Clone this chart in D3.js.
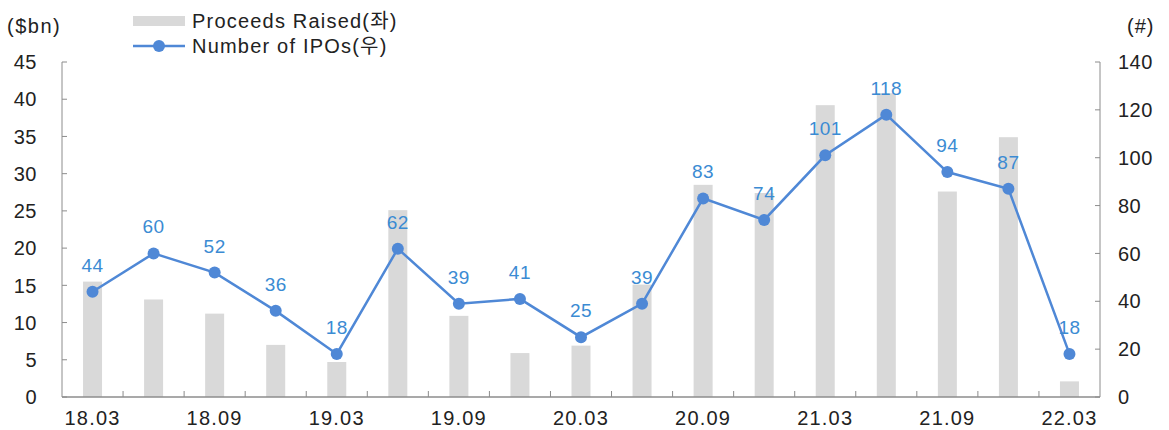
<!DOCTYPE html>
<html lang="ko">
<head>
<meta charset="UTF-8">
<title>IPO Proceeds and Number of IPOs</title>
<script src="https://d3js.org/d3.v7.min.js"></script>
<style>
    body { margin: 0; background: #fff; }
    svg { font-family: "Liberation Sans", "Noto Sans CJK KR", sans-serif; }
</style>
</head>
<body>
<div id="chart"></div>
<script>
// quarterly data, 18.03 - 22.03
var quarters = ["18.03","18.06","18.09","18.12","19.03","19.06","19.09","19.12",
                "20.03","20.06","20.09","20.12","21.03","21.06","21.09","21.12","22.03"];
var proceeds = [15.5, 13.1, 11.2, 7.0, 4.7, 25.1, 10.9, 5.9,
                6.9, 15.1, 28.5, 27.4, 39.2, 40.8, 27.6, 34.9, 2.1];
var ipoCount = [44, 60, 52, 36, 18, 62, 39, 41, 25, 39, 83, 74, 101, 118, 94, 87, 18];
var xTickLabels = ["18.03","18.09","19.03","19.09","20.03","20.09","21.03","21.09","22.03"];
var leftTicks = [0,5,10,15,20,25,30,35,40,45];
var rightTicks = [0,20,40,60,80,100,120,140];

var W = 1169, H = 430;
var plotL = 62, plotR = 1100, plotT = 62, plotB = 397;
var fs = 20;

var svg = d3.select("#chart").append("svg")
    .attr("width", W).attr("height", H);

var x = d3.scaleBand().domain(quarters).range([plotL, plotR]).padding(0);
var yL = d3.scaleLinear().domain([0, 45]).range([plotB, plotT]);
var yR = d3.scaleLinear().domain([0, 140]).range([plotB, plotT]);
var cx = function(q) { return x(q) + x.bandwidth() / 2; };

var axisColor = "#8c8c8c", textColor = "#222", lineColor = "#4f88d6", labelColor = "#3b8bd3";

// bars
svg.selectAll("rect.bar").data(proceeds).enter().append("rect")
    .attr("class", "bar")
    .attr("x", function(d, i) { return cx(quarters[i]) - 9.5; })
    .attr("width", 19)
    .attr("y", function(d) { return yL(d); })
    .attr("height", function(d) { return plotB - yL(d); })
    .attr("fill", "#d9d9d9");

// axes lines
svg.append("line").attr("x1", plotL).attr("x2", plotL).attr("y1", plotT).attr("y2", plotB)
    .attr("stroke", axisColor).attr("stroke-width", 1);
svg.append("line").attr("x1", plotR).attr("x2", plotR).attr("y1", plotT).attr("y2", plotB)
    .attr("stroke", axisColor).attr("stroke-width", 1);
svg.append("line").attr("x1", plotL).attr("x2", plotR).attr("y1", plotB).attr("y2", plotB)
    .attr("stroke", axisColor).attr("stroke-width", 1.5);

// left ticks
svg.selectAll("line.lt").data(leftTicks).enter().append("line")
    .attr("x1", plotL).attr("x2", plotL + 5)
    .attr("y1", function(d) { return yL(d); }).attr("y2", function(d) { return yL(d); })
    .attr("stroke", axisColor);
svg.selectAll("text.lt").data(leftTicks).enter().append("text")
    .attr("x", 37).attr("y", function(d) { return yL(d); })
    .attr("dy", "0.36em").attr("text-anchor", "end")
    .attr("font-size", fs).attr("letter-spacing", 0.5).attr("fill", textColor)
    .text(function(d) { return d; });

// right ticks
svg.selectAll("line.rt").data(rightTicks).enter().append("line")
    .attr("x1", plotR - 5).attr("x2", plotR)
    .attr("y1", function(d) { return yR(d); }).attr("y2", function(d) { return yR(d); })
    .attr("stroke", axisColor);
svg.selectAll("text.rt").data(rightTicks).enter().append("text")
    .attr("x", 1118).attr("y", function(d) { return yR(d); })
    .attr("dy", "0.36em").attr("text-anchor", "start")
    .attr("font-size", fs).attr("letter-spacing", 0.5).attr("fill", textColor)
    .text(function(d) { return d; });

// x ticks at band boundaries
svg.selectAll("line.xt").data(quarters.slice(1)).enter().append("line")
    .attr("x1", function(d) { return x(d); }).attr("x2", function(d) { return x(d); })
    .attr("y1", plotB - 6).attr("y2", plotB)
    .attr("stroke", axisColor);
svg.selectAll("text.xt").data(xTickLabels).enter().append("text")
    .attr("x", function(d) { return cx(d); }).attr("y", 425)
    .attr("text-anchor", "middle")
    .attr("font-size", fs).attr("letter-spacing", 1.2).attr("fill", textColor)
    .text(function(d) { return d; });

// line
var line = d3.line()
    .x(function(d, i) { return cx(quarters[i]); })
    .y(function(d) { return yR(d); });
svg.append("path").datum(ipoCount)
    .attr("d", line).attr("fill", "none")
    .attr("stroke", lineColor).attr("stroke-width", 2.5);
svg.selectAll("circle.pt").data(ipoCount).enter().append("circle")
    .attr("cx", function(d, i) { return cx(quarters[i]); })
    .attr("cy", function(d) { return yR(d); })
    .attr("r", 6).attr("fill", lineColor);
svg.selectAll("text.pt").data(ipoCount).enter().append("text")
    .attr("x", function(d, i) { return cx(quarters[i]); })
    .attr("y", function(d) { return yR(d) - 20; })
    .attr("text-anchor", "middle")
    .attr("font-size", fs - 1).attr("letter-spacing", 0.5).attr("fill", labelColor)
    .text(function(d) { return d; });

// axis titles
svg.append("text").attr("x", 7).attr("y", 33).attr("font-size", fs)
    .attr("letter-spacing", 1.5).attr("fill", textColor).text("($bn)");
svg.append("text").attr("x", 1127).attr("y", 33).attr("font-size", fs)
    .attr("letter-spacing", 1).attr("fill", textColor).text("(#)");

// legend
var lg = svg.append("g");
lg.append("rect").attr("x", 133).attr("y", 16).attr("width", 52).attr("height", 10).attr("fill", "#d9d9d9");
lg.append("text").attr("x", 192).attr("y", 28).attr("font-size", fs)
    .attr("letter-spacing", 1.2).attr("fill", textColor).text("Proceeds Raised(좌)");
lg.append("line").attr("x1", 133).attr("x2", 185).attr("y1", 46).attr("y2", 46)
    .attr("stroke", lineColor).attr("stroke-width", 2.5);
lg.append("circle").attr("cx", 159).attr("cy", 46).attr("r", 6).attr("fill", lineColor);
lg.append("text").attr("x", 192).attr("y", 53).attr("font-size", fs)
    .attr("letter-spacing", 1.2).attr("fill", textColor).text("Number of IPOs(우)");
</script>
</body>
</html>
